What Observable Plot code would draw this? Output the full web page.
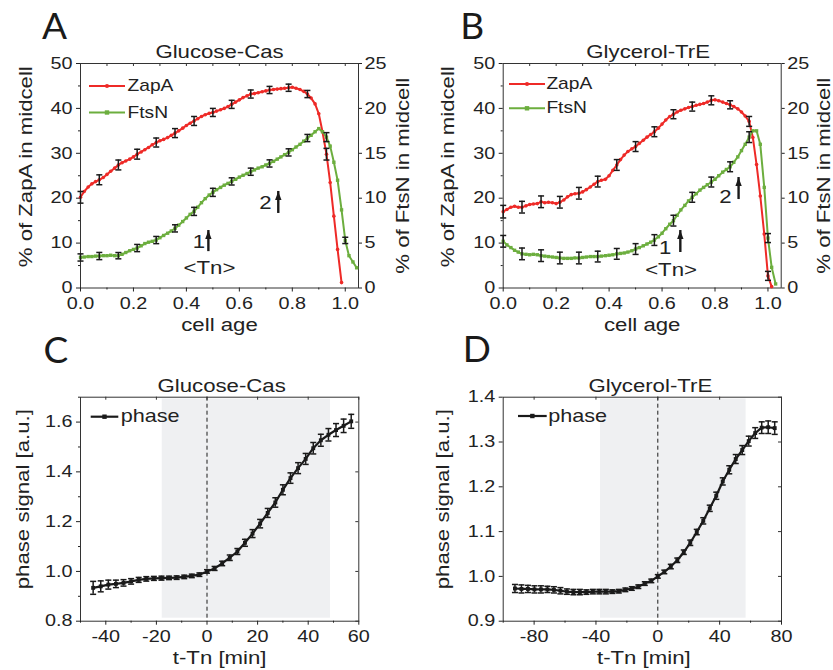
<!DOCTYPE html>
<html>
<head>
<meta charset="utf-8">
<script src="https://cdn.jsdelivr.net/npm/d3@7"></script>
<script src="https://cdn.jsdelivr.net/npm/@observablehq/plot@0.6"></script>
<style>
  body { margin: 0; background: #fff; }
  #fig { position: relative; width: 833px; height: 670px; overflow: hidden; }
  .pn { position: absolute; }
</style>
</head>
<body>
<div id="fig">
  <div class="pn" id="pA" style="left:0;top:0"></div>
  <div class="pn" id="pB" style="left:416px;top:0"></div>
  <div class="pn" id="pC" style="left:0;top:335px"></div>
  <div class="pn" id="pD" style="left:416px;top:335px"></div>
</div>
<script>
// ---------------- data ----------------
const cellAge = [0,.014,.029,.043,.057,.071,.086,.1,.114,.129,.143,.157,.171,.186,.2,.214,.229,.243,.257,.271,
  .286,.3,.314,.329,.343,.357,.371,.386,.4,.414,.429,.443,.457,.471,.486,.5,.514,.529,.543,.557,
  .571,.586,.6,.614,.629,.643,.657,.671,.686,.7,.714,.729,.743,.757,.771,.786,.8,.814,.829,.843,
  .857,.871,.886,.9,.914,.929,.943,.957,.971,.986,1.0,1.014,1.029,1.043];

const seriesNames = ["ZapA", "FtsN"];
const panelLetters = ["A", "B", "C", "D"];

// Panel A (Glucose-Cas)
const zapA_glucose = [20.2,21.5,22.5,23.2,23.7,24.1,24.6,25.3,26.0,26.7,
  27.4,27.9,28.3,28.7,29.2,29.8,30.3,30.8,31.3,31.9,
  32.4,32.8,33.1,33.5,34.0,34.5,35.0,35.6,36.2,36.7,
  37.2,37.7,38.2,38.6,38.9,39.1,39.4,39.7,40.0,40.4,
  40.9,41.4,41.9,42.4,42.8,43.2,43.3,43.5,43.7,43.9,
  44.1,44.2,44.3,44.4,44.5,44.6,44.7,44.5,44.2,43.8,
  43.2,42.3,41.0,38.8,34.8,29.8,23.5,16.0,8.6,1.2];
const ftsN_glucose = [3.4,3.45,3.5,3.5,3.55,3.56,3.6,3.6,3.65,3.6,
  3.6,3.75,3.95,4.15,4.3,4.45,4.7,4.95,5.1,5.2,
  5.34,5.6,5.85,6.1,6.35,6.64,7.0,7.4,7.8,8.2,
  8.53,9.0,9.5,9.95,10.35,10.65,10.95,11.2,11.45,11.65,
  11.87,12.1,12.35,12.55,12.75,12.95,13.15,13.35,13.5,13.7,
  13.87,14.1,14.35,14.6,14.85,15.1,15.4,15.7,16.0,16.35,
  16.7,17.0,17.4,17.75,17.4,16.8,15.8,14.0,12.0,8.7,
  5.3,3.6,2.9,2.25];
const zapA_glucose_err = [1.3,1.1,1.1,1.1,1.0,1.0,1.0,0.9,0.9,0.9,0.8,0.8,0.8,1.3];
const ftsN_glucose_err = [0.4,0.4,0.35,0.4,0.4,0.4,0.45,0.45,0.4,0.4,0.4,0.4,0.4,0.5,0.35];

// Panel B (Glycerol-TrE)
const zapA_glycerol = [17.0,17.5,18.0,18.2,18.0,18.0,18.3,18.6,18.7,18.8,
  19.2,19.0,19.1,19.0,18.8,19.1,19.6,20.3,20.8,21.0,
  21.1,21.4,21.9,22.5,23.1,23.7,24.0,24.2,25.0,26.2,
  27.4,28.6,29.6,30.4,31.0,31.5,32.2,32.9,33.6,34.2,
  34.8,35.6,36.5,37.4,38.2,38.7,39.2,39.6,39.9,40.2,
  40.4,40.7,40.9,41.1,41.4,41.8,41.9,41.7,41.4,41.1,
  40.8,40.4,39.9,39.2,38.3,37.1,33.5,27.5,20.5,12.0,
  2.7,0.3];
const ftsN_glycerol = [5.2,4.8,4.5,4.2,4.0,3.8,3.75,3.7,3.75,3.7,
  3.6,3.55,3.5,3.45,3.4,3.34,3.3,3.3,3.3,3.35,
  3.34,3.4,3.45,3.5,3.5,3.5,3.55,3.6,3.65,3.7,
  3.8,3.85,3.9,4.0,4.15,4.34,4.5,4.7,4.9,5.1,
  5.34,5.7,6.1,6.6,7.1,7.5,8.1,8.7,9.2,9.7,
  10.1,10.5,10.9,11.2,11.5,11.8,12.1,12.5,12.9,13.2,
  13.5,14.0,14.6,15.3,16.0,16.8,17.5,17.5,16.0,11.2,
  5.56,2.3,0.45];
const zapA_glycerol_err = [1.4,1.3,1.3,1.3,1.3,1.2,1.2,1.1,1.1,1.0,1.0,1.0,0.9,1.1,1.0];
const ftsN_glycerol_err = [0.65,0.65,0.65,0.65,0.65,0.6,0.6,0.6,0.6,0.6,0.55,0.55,0.55,0.6,0.5];

// Panel C (phase, Glucose-Cas)
const tC = [-45,-42,-39,-36,-33,-30,-27,-24,-21,-18,-15,-12,-9,-6,-3,0,3,6,9,12,15,18,21,24,27,30,33,36,39,42,45,48,51,54,57];
const phaseC = [0.934,0.940,0.947,0.950,0.954,0.960,0.966,0.970,0.972,0.973,0.974,0.975,0.978,0.982,0.987,1.000,1.012,1.032,1.055,1.080,1.115,1.152,1.192,1.235,1.277,1.328,1.375,1.415,1.452,1.495,1.527,1.549,1.568,1.585,1.603];
const phaseC_err = [0.026,0.022,0.018,0.015,0.013,0.011,0.01,0.009,0.008,0.008,0.007,0.007,0.007,0.007,0.007,0.007,0.008,0.009,0.011,0.012,0.014,0.016,0.017,0.018,0.019,0.02,0.021,0.022,0.022,0.023,0.024,0.025,0.026,0.027,0.028];
const shadeC = [-17.7, 48.8];

// Panel D (phase, Glycerol-TrE)
const tD = [-92.4,-88.2,-84,-79.8,-75.6,-71.4,-67.2,-63,-58.8,-54.6,-50.4,-46.2,-42,-37.8,-33.6,-29.4,-25.2,-21,-16.8,-12.6,-8.4,-4.2,0,4.2,8.4,12.6,16.8,21,25.2,29.4,33.6,37.8,42,46.2,50.4,54.6,58.8,63,67.2,71.4,75.6];
const phaseD = [0.973,0.972,0.972,0.971,0.971,0.971,0.970,0.968,0.966,0.965,0.965,0.965,0.966,0.966,0.966,0.966,0.967,0.970,0.973,0.977,0.984,0.990,1.000,1.010,1.022,1.036,1.054,1.075,1.099,1.124,1.152,1.180,1.212,1.238,1.262,1.282,1.302,1.320,1.332,1.333,1.331];
const phaseD_err = [0.009,0.009,0.008,0.008,0.008,0.007,0.007,0.007,0.006,0.006,0.006,0.005,0.005,0.005,0.005,0.004,0.004,0.004,0.004,0.004,0.004,0.004,0.004,0.004,0.005,0.005,0.005,0.006,0.006,0.007,0.007,0.008,0.008,0.009,0.01,0.01,0.011,0.012,0.013,0.014,0.014];
const shadeD = [-37.1, 57.1];

// tick values
const ageMajor = [0, 0.2, 0.4, 0.6, 0.8, 1.0];
const ageMinor = [0.1, 0.3, 0.5, 0.7, 0.9];
const ageTop = [0.1, 0.2, 0.3, 0.4, 0.5, 0.6, 0.7, 0.8, 0.9, 1.0];
const pctMajor = [0, 10, 20, 30, 40, 50];
const pctMinor = [5, 15, 25, 35, 45];

// annotations (data units)
const annA = {arrows: [{x: 0.483, y1: 8.1, y2: 12.8}, {x: 0.747, y1: 16.6, y2: 21.5}],
  labels: [{x: 0.447, y: 8.8, t: "1"}, {x: 0.698, y: 17.5, t: "2"}, {x: 0.487, y: 3.2, t: "<Tn>"}]};
const annB = {arrows: [{x: 0.669, y1: 7.9, y2: 12.8}, {x: 0.889, y1: 19.7, y2: 24.6}],
  labels: [{x: 0.612, y: 7.6, t: "1"}, {x: 0.839, y: 19.0, t: "2"}, {x: 0.634, y: 2.7, t: "<Tn>"}]};

// ---------------- drawing ----------------
const RED = "#ee2a27", GREEN = "#6cae3e", INK = "#1a1a1a", FRAME = "#333";
const FONT = "'Liberation Sans', Arial, sans-serif";
const LETTER_FONT = "Lato, 'Open Sans', sans-serif";
const capSym = {draw(ctx, size) { const w = Math.sqrt(size); ctx.moveTo(-w, 0); ctx.lineTo(w, 0); }};
const headSym = {draw(ctx) { ctx.moveTo(0, 0); ctx.lineTo(3.2, 8.5); ctx.lineTo(-3.2, 8.5); ctx.closePath(); }};

function stretchText(svg) {
  svg.querySelectorAll("text").forEach(t => {
    const p = t.parentNode;
    if (p && p.getAttribute && p.getAttribute("font-size") === "37") return; // panel letters keep natural width
    const tr = t.getAttribute("transform");
    if (tr != null) t.setAttribute("transform", tr + " scale(1.2,1)");
  });
  return svg;
}

function letterMark(letter, dx, dy) {
  return Plot.text([letter], {frameAnchor: "top-left", textAnchor: "start", lineAnchor: "bottom",
    dx, dy, fontSize: 37, fontFamily: LETTER_FONT, fill: INK});
}

function legendMark(items, o) {
  return (index, scales, values, dims) => {
    const g = d3.create("svg:g");
    items.forEach((it, k) => {
      const y = dims.marginTop + o.y0 + k * o.dy;
      const x0 = dims.marginLeft + o.x0, x1 = dims.marginLeft + o.x1, xm = (x0 + x1) / 2;
      g.append("line").attr("x1", x0).attr("x2", x1).attr("y1", y).attr("y2", y)
        .attr("stroke", it.color).attr("stroke-width", o.sw);
      if (it.shape === "circle") g.append("circle").attr("cx", xm).attr("cy", y).attr("r", 2.1).attr("fill", it.color);
      else g.append("rect").attr("x", xm - 2.2).attr("y", y - 2.2).attr("width", 4.4).attr("height", 4.4).attr("fill", it.color);
      g.append("text")
        .attr("transform", `translate(${dims.marginLeft + o.tx},${dims.marginTop + o.ty + k * o.dy})`)
        .attr("text-anchor", "start")
        .attr("font-size", o.fs).attr("font-family", FONT).attr("fill", "#222").text(it.label);
    });
    return g.node();
  };
}

function errRows(vals, errs, k, xs) {
  return errs.map((e, j) => ({x: xs[j * 5], lo: (vals[j * 5] - e) * k, hi: (vals[j * 5] + e) * k}));
}

function errorMarks(rows) {
  return [
    Plot.ruleX(rows, {x: "x", y1: "lo", y2: "hi", stroke: INK, strokeWidth: 1.5}),
    Plot.dot(rows, {x: "x", y: "lo", symbol: capSym, r: 1.7, stroke: INK, fill: "none", strokeWidth: 1.5}),
    Plot.dot(rows, {x: "x", y: "hi", symbol: capSym, r: 1.7, stroke: INK, fill: "none", strokeWidth: 1.5})
  ];
}

function dualPanel(o) {
  const W = o.width, H = 335, mt = 63, mb = 47.5, ml = o.ml, mr = o.mr;
  const iw = W - ml - mr, ih = H - mt - mb;
  const zap = o.zap.map((v, i) => ({x: cellAge[i], y: v}));
  const fts = o.fts.map((v, i) => ({x: cellAge[i], y: v * 2}));
  const ez = errRows(o.zap, o.zapErr, 1, cellAge);
  const ef = errRows(o.fts, o.ftsErr, 2, cellAge);
  const svg = Plot.plot({
    width: W, height: H, marginTop: mt, marginBottom: mb, marginLeft: ml, marginRight: mr,
    x: {domain: [0, 1.05]}, y: {domain: [0, 50]},
    style: {fontFamily: FONT, fontSize: "16.5px", color: "#222", overflow: "visible", background: "transparent"},
    marks: [
      Plot.frame({stroke: FRAME, strokeWidth: 1}),
      Plot.axisY(pctMajor, {anchor: "left", tickSize: 4, tickPadding: 4, label: null}),
      Plot.axisY(pctMinor, {anchor: "left", tickSize: 2, tickFormat: () => "", label: null}),
      Plot.axisY(pctMajor, {anchor: "right", tickSize: 3, tickPadding: 3, tickFormat: d => String(d / 2), label: null}),
      Plot.axisX(ageMajor, {anchor: "bottom", tickSize: 4, tickPadding: 5, tickFormat: d3.format(".1f"), label: null}),
      Plot.axisX(ageMinor, {anchor: "bottom", tickSize: 2, tickFormat: () => "", label: null}),
      Plot.tickX(ageTop, {x: d => d, insetBottom: ih - 3, stroke: FRAME}),
      Plot.line(zap, {x: "x", y: "y", stroke: RED, strokeWidth: 2}),
      Plot.dot(zap, {x: "x", y: "y", r: 1.8, fill: RED}),
      Plot.line(fts, {x: "x", y: "y", stroke: GREEN, strokeWidth: 2}),
      Plot.dot(fts, {x: "x", y: "y", symbol: "square", r: 1.9, fill: GREEN}),
      ...errorMarks(ez),
      ...errorMarks(ef),
      Plot.ruleX(o.ann.arrows, {x: "x", y1: "y1", y2: "y2", stroke: INK, strokeWidth: 2.4}),
      Plot.dot(o.ann.arrows, {x: "x", y: "y2", symbol: headSym, fill: INK, stroke: "none", r: 3}),
      Plot.text(o.ann.labels, {x: "x", y: "y", text: "t", lineAnchor: "bottom", fontSize: 18.5, fill: "#222"}),
      legendMark([{label: seriesNames[0], color: RED, shape: "circle"}, {label: seriesNames[1], color: GREEN, shape: "square"}], o.legend),
      Plot.text([o.title], {frameAnchor: "top", textAnchor: "middle", lineAnchor: "bottom", dy: -6, dx: o.titleDx, fontSize: 18.5}),
      Plot.text(["cell age"], {frameAnchor: "bottom", textAnchor: "middle", lineAnchor: "bottom", dy: 42.5, fontSize: 18.5}),
      Plot.text(["% of ZapA in midcell"], {frameAnchor: "left", rotate: -90, textAnchor: "middle", lineAnchor: "middle", dx: o.yLabelDx, dy: -9, fontSize: 18.5}),
      Plot.text(["% of FtsN in midcell"], {frameAnchor: "right", rotate: -90, textAnchor: "middle", lineAnchor: "middle", dx: o.y2LabelDx, fontSize: 18.5}),
      letterMark(o.letter, o.letterDx, o.letterDy)
    ]
  });
  return stretchText(svg);
}

function phasePanel(o) {
  const W = o.width, H = 335, mt = 61.7, mb = 49.3, ml = o.ml, mr = o.mr;
  const iw = W - ml - mr, ih = H - mt - mb;
  const rows = o.t.map((t, i) => ({x: t, y: o.v[i], lo: o.v[i] - o.e[i], hi: o.v[i] + o.e[i]}));
  const svg = Plot.plot({
    width: W, height: H, marginTop: mt, marginBottom: mb, marginLeft: ml, marginRight: mr,
    x: {domain: o.xDomain}, y: {domain: o.yDomain},
    style: {fontFamily: FONT, fontSize: "16.5px", color: "#222", overflow: "visible", background: "transparent"},
    marks: [
      Plot.rect([o.shade], {x1: d => d[0], x2: d => d[1], fill: "#eff0f2", insetTop: 1.8, insetBottom: 3}),
      Plot.ruleX([0], {stroke: INK, strokeDasharray: "4,3", strokeWidth: 1}),
      Plot.frame({stroke: FRAME, strokeWidth: 1}),
      Plot.axisY(o.yMajor, {anchor: "left", tickSize: 4, tickPadding: 4, tickFormat: d3.format(".1f"), label: null}),
      Plot.axisY(o.yMinor, {anchor: "left", tickSize: 2, tickFormat: () => "", label: null}),
      Plot.axisX(o.xMajor, {anchor: "bottom", tickSize: 4, tickPadding: 5, tickFormat: d => String(d), label: null}),
      Plot.axisX(o.xMinor, {anchor: "bottom", tickSize: 2, tickFormat: () => "", label: null}),
      Plot.tickY(o.yMajor, {y: d => d, insetLeft: iw - 3, stroke: FRAME}),
      Plot.tickX(o.xMajor, {x: d => d, insetBottom: ih - 3, stroke: FRAME}),
      ...errorMarks(rows),
      Plot.line(rows, {x: "x", y: "y", stroke: INK, strokeWidth: 2.2}),
      Plot.dot(rows, {x: "x", y: "y", symbol: "square", r: 2.2, fill: INK}),
      legendMark([{label: "phase", color: INK, shape: "square"}], o.legend),
      Plot.text([o.title], {frameAnchor: "top", textAnchor: "middle", lineAnchor: "bottom", dy: -5.5, dx: o.titleDx, fontSize: 18.5}),
      Plot.text(["t-Tn [min]"], {frameAnchor: "bottom", textAnchor: "middle", lineAnchor: "bottom", dy: 42.6, dx: o.xLabelDx, fontSize: 18.5}),
      Plot.text(["phase signal [a.u.]"], {frameAnchor: "left", rotate: -90, textAnchor: "middle", lineAnchor: "middle", dx: o.yLabelDx, dy: -10, fontSize: 18.5}),
      letterMark(o.letter, o.letterDx, o.letterDy)
    ]
  });
  return stretchText(svg);
}

document.getElementById("pA").append(dualPanel({
  width: 416, ml: 80, mr: 58, zap: zapA_glucose, fts: ftsN_glucose,
  zapErr: zapA_glucose_err, ftsErr: ftsN_glucose_err, ann: annA,
  title: "Glucose-Cas", titleDx: 0, yLabelDx: -54, y2LabelDx: 45,
  letter: panelLetters[0], letterDx: -38.5, letterDy: -25,
  legend: {x0: 9, x1: 45, y0: 23, dy: 26.5, tx: 47.5, ty: 28, fs: 16, sw: 2}
}));
document.getElementById("pB").append(dualPanel({
  width: 417, ml: 86.7, mr: 52.3, zap: zapA_glycerol, fts: ftsN_glycerol,
  zapErr: zapA_glycerol_err, ftsErr: ftsN_glycerol_err, ann: annB,
  title: "Glycerol-TrE", titleDx: 6, yLabelDx: -54.7, y2LabelDx: 42.6,
  letter: panelLetters[1], letterDx: -43, letterDy: -25,
  legend: {x0: 6.3, x1: 42.3, y0: 21, dy: 24.3, tx: 43.7, ty: 26, fs: 16, sw: 2}
}));
document.getElementById("pC").append(phasePanel({
  width: 416, ml: 80, mr: 57.7, t: tC, v: phaseC, e: phaseC_err, shade: shadeC,
  xDomain: [-50, 60], yDomain: [0.8, 1.7],
  xMajor: [-40, -20, 0, 20, 40, 60], xMinor: [-50, -30, -10, 10, 30, 50],
  yMajor: [0.8, 1.0, 1.2, 1.4, 1.6], yMinor: [0.9, 1.1, 1.3, 1.5, 1.7],
  title: "Glucose-Cas", titleDx: 2, xLabelDx: 0, yLabelDx: -57,
  letter: panelLetters[2], letterDx: -37, letterDy: -34.7,
  legend: {x0: 10.7, x1: 38.3, y0: 20, dy: 0, tx: 40.7, ty: 25.5, fs: 18, sw: 2.2}
}));
document.getElementById("pD").append(phasePanel({
  width: 417, ml: 86.7, mr: 52, t: tD, v: phaseD, e: phaseD_err, shade: shadeD,
  xDomain: [-100, 80], yDomain: [0.9, 1.4],
  xMajor: [-80, -40, 0, 40, 80], xMinor: [-100, -60, -20, 20, 60],
  yMajor: [0.9, 1.0, 1.1, 1.2, 1.3, 1.4], yMinor: [],
  title: "Glycerol-TrE", titleDx: 8, xLabelDx: 1.5, yLabelDx: -59.7,
  letter: panelLetters[3], letterDx: -40.5, letterDy: -35.7,
  legend: {x0: 15.3, x1: 44, y0: 19.3, dy: 0, tx: 45.6, ty: 25, fs: 18, sw: 2.2}
}));
</script>
</body>
</html>
